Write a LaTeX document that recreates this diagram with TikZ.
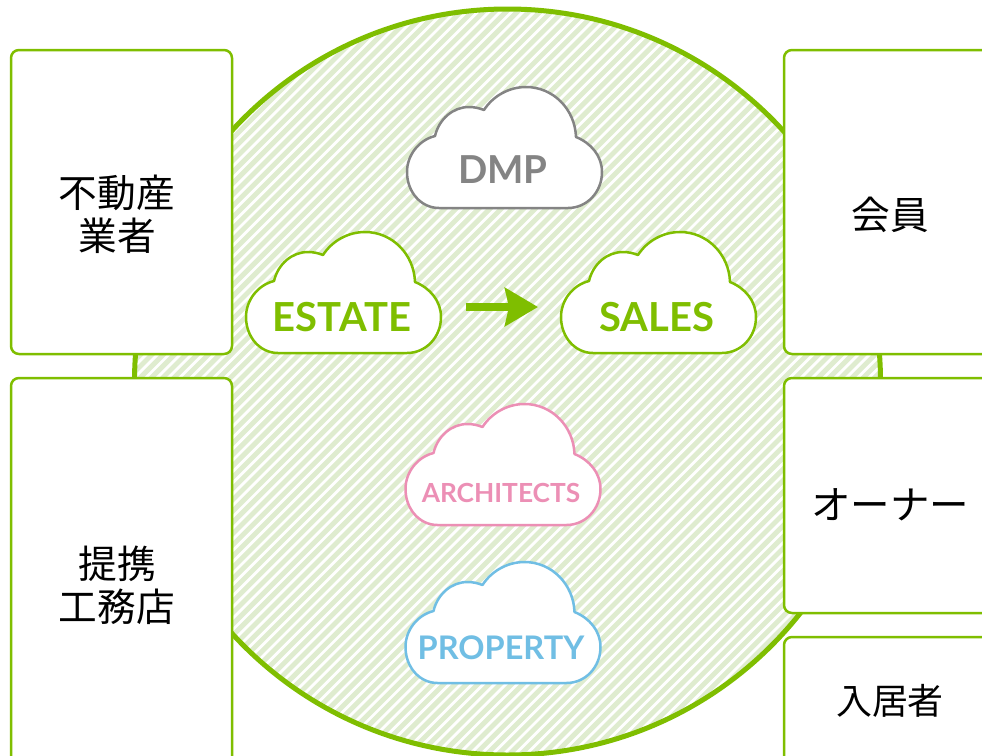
\documentclass[tikz,border=0pt]{standalone}
\usepackage{fontspec}
\setmainfont{Lato}
\newfontfamily\jp{Noto Sans CJK JP}
\usetikzlibrary{arrows.meta}
\definecolor{lime}{HTML}{7FBE00}
\definecolor{hatch}{HTML}{DFECCF}
\definecolor{dmpgray}{HTML}{848484}
\definecolor{pinkc}{HTML}{EC8FB5}
\definecolor{bluec}{HTML}{70BEE4}
\tikzset{
  x=1pt,y=-1pt,
  panel/.style={draw=lime,line width=2.5pt,fill=white,rounded corners=8pt},
  paneltext/.style={font=\jp\fontsize{38.7}{43}\selectfont,align=center,text=black,inner sep=0pt},
  cloudtext/.style={font=\bfseries\fontsize{40}{44}\selectfont,inner sep=0pt},
  cloudbox/.style={minimum width=195pt,minimum height=1pt,inner sep=0pt,outer sep=0pt},
  flow/.style={draw=lime,line width=7.5pt,-{Triangle[length=33pt,width=38pt,inset=4pt]}},
  pics/cloud/.style={code={
    \draw[line width=2.5pt,draw=#1,fill=white,line join=round]
      (32,121) .. controls (14,121) and (0,105) .. (0,85)
      .. controls (0,68) and (12,53) .. (28,49)
      .. controls (32,32) and (46,20) .. (62,20)
      .. controls (67,20) and (72,21) .. (77,23)
      .. controls (86,9) and (102,0) .. (119,0)
      .. controls (146,0) and (168,22) .. (169,50)
      .. controls (184,56) and (195,69) .. (195,85)
      .. controls (195,105) and (180,121) .. (161,121)
      -- cycle;
  }}
}
\begin{document}
\begin{tikzpicture}
\useasboundingbox (0,0) rectangle (982,755);
\begin{scope}
  \clip (0,0) rectangle (982,755);
  \begin{scope}
    \clip (507.5,382) circle[radius=373pt];
    \fill[hatch] (100,0) rectangle (920,760);
    \foreach \i in {-40,...,110}{
      \draw[white,line width=2.8pt] (\i*11.3-200,780) -- (\i*11.3+600,-20);
    }
  \end{scope}
  \draw[lime,line width=5pt] (507.5,382) circle[radius=373pt];

  \path[panel] (11,50) rectangle (232,354);
  \path[panel] (11,378) rectangle (232,775);
  \path[panel] (784,50) rectangle (1000,354);
  \path[panel] (784,378) rectangle (1000,613);
  \path[panel] (784,637) rectangle (1000,775);
\end{scope}
\node[paneltext] (fudosan) at (117,214) {不動産\\業者};
\node[paneltext] (teikei) at (117,585) {提携\\工務店};
\node[paneltext] (kaiin) at (890,215) {会員};
\node[paneltext,font=\jp\fontsize{39.5}{44}\selectfont] (owner) at (890,505) {オーナー};
\node[paneltext,font=\jp\fontsize{35.9}{44}\selectfont] (resident) at (890,701) {入居者};

\pic at (407,87) {cloud=dmpgray};
\pic at (246,232) {cloud=lime};
\pic at (561,232) {cloud=lime};
\pic at (405.5,404) {cloud=pinkc};
\pic at (405.5,562) {cloud=bluec};

\node[cloudtext,text=dmpgray,font=\bfseries\fontsize{38.5}{42}\selectfont] (dmp) at (503,170) {DMP};
\node[cloudtext,text=lime] (estatelabel) at (342,317) {ESTATE};
\node[cloudtext,text=lime] (saleslabel) at (657,317) {SALES};
\node[cloudtext,text=pinkc,font=\bfseries\fontsize{26.3}{30}\selectfont] (arch) at (501,493) {ARCHITECTS};
\node[cloudtext,text=bluec,font=\bfseries\fontsize{32.5}{36}\selectfont] (prop) at (501,648) {PROPERTY};

\node[cloudbox] (estate) at (343.5,307) {};
\node[cloudbox] (sales) at (658.5,307) {};
\draw[flow,shorten <=25pt,shorten >=23pt] (estate.east) -- (sales.west);
\end{tikzpicture}
\end{document}
